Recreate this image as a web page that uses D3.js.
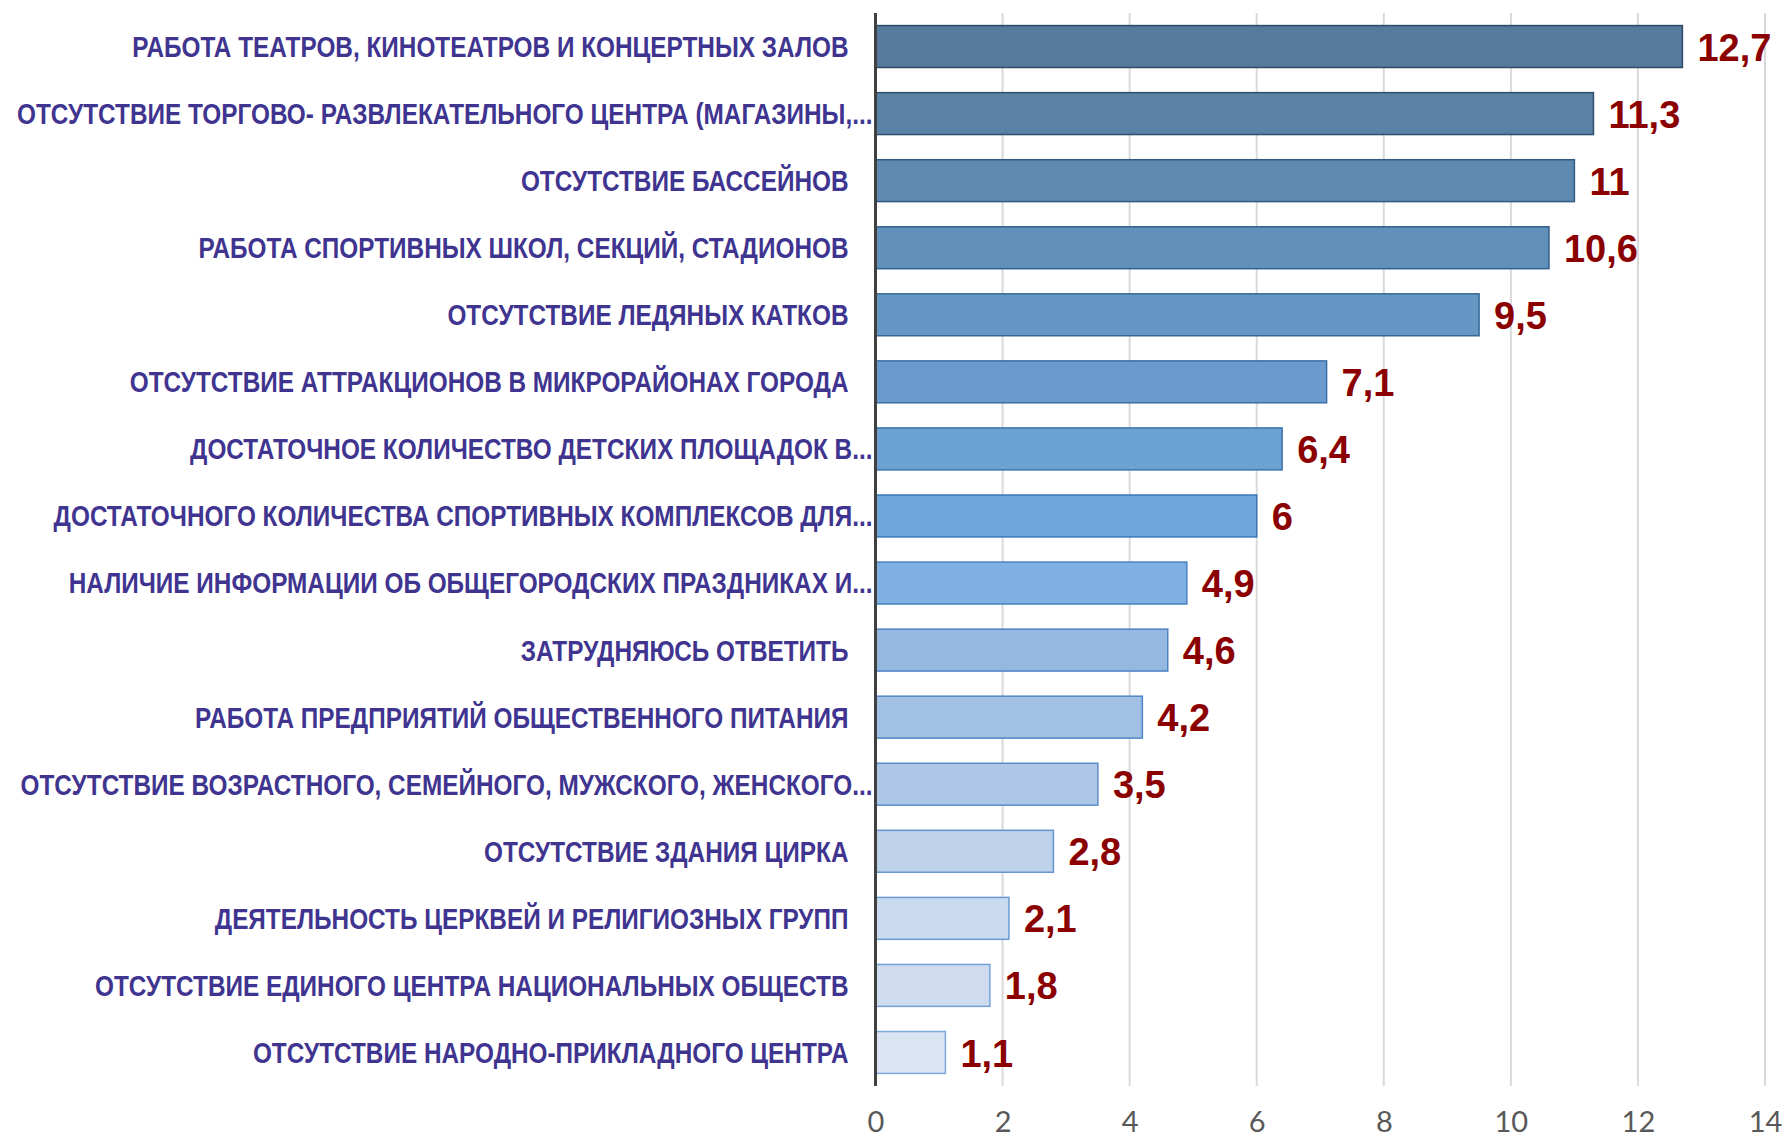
<!DOCTYPE html>
<html>
<head>
<meta charset="utf-8">
<script src="https://cdn.jsdelivr.net/npm/d3@7"></script>
<style>
  html, body { margin: 0; padding: 0; background: #ffffff; }
  svg { display: block; }
</style>
</head>
<body>
<svg id="chart" width="1785" height="1139"></svg>
<script>
const categories = [
  "РАБОТА ТЕАТРОВ, КИНОТЕАТРОВ И КОНЦЕРТНЫХ ЗАЛОВ",
  "ОТСУТСТВИЕ ТОРГОВО- РАЗВЛЕКАТЕЛЬНОГО ЦЕНТРА (МАГАЗИНЫ,...",
  "ОТСУТСТВИЕ БАССЕЙНОВ",
  "РАБОТА СПОРТИВНЫХ ШКОЛ, СЕКЦИЙ, СТАДИОНОВ",
  "ОТСУТСТВИЕ ЛЕДЯНЫХ КАТКОВ",
  "ОТСУТСТВИЕ АТТРАКЦИОНОВ В МИКРОРАЙОНАХ ГОРОДА",
  "ДОСТАТОЧНОЕ КОЛИЧЕСТВО ДЕТСКИХ ПЛОЩАДОК В...",
  "ДОСТАТОЧНОГО КОЛИЧЕСТВА СПОРТИВНЫХ КОМПЛЕКСОВ ДЛЯ...",
  "НАЛИЧИЕ ИНФОРМАЦИИ ОБ ОБЩЕГОРОДСКИХ ПРАЗДНИКАХ И...",
  "ЗАТРУДНЯЮСЬ ОТВЕТИТЬ",
  "РАБОТА ПРЕДПРИЯТИЙ ОБЩЕСТВЕННОГО ПИТАНИЯ",
  "ОТСУТСТВИЕ ВОЗРАСТНОГО, СЕМЕЙНОГО, МУЖСКОГО, ЖЕНСКОГО...",
  "ОТСУТСТВИЕ ЗДАНИЯ ЦИРКА",
  "ДЕЯТЕЛЬНОСТЬ ЦЕРКВЕЙ И РЕЛИГИОЗНЫХ ГРУПП",
  "ОТСУТСТВИЕ ЕДИНОГО ЦЕНТРА НАЦИОНАЛЬНЫХ ОБЩЕСТВ",
  "ОТСУТСТВИЕ НАРОДНО-ПРИКЛАДНОГО ЦЕНТРА"
];
const values = [12.7, 11.3, 11, 10.6, 9.5, 7.1, 6.4, 6, 4.9, 4.6, 4.2, 3.5, 2.8, 2.1, 1.8, 1.1];
const tickValues = [0, 2, 4, 6, 8, 10, 12, 14];
const barFills = ["#557a9b","#5a81a6","#5e89b1","#6190bb","#6497c4","#6a9bcd","#6ba2d2","#70a7da",
                  "#7eb1e1","#94b8e0","#a2c0e4","#afc7e7","#bed2ea","#c9d9ee","#cfdcef","#dae4f2"];
const barStrokes = ["#2f4a68","#30506f","#345a80","#36618c","#386898","#3a6ea6","#3b72ae","#3d78b8",
                    "#4a80c2","#4c82c4","#4f85c6","#5a8dcb","#6494d0","#6c9ad3","#73a0d6","#7ea7da"];
const truncated = categories.map(c => c.endsWith("..."));

const svg = d3.select("#chart");
const plotLeft = 875.5, plotRight = 1765, plotTop = 13, plotBottom = 1086;
const boldFont = "'Liberation Sans', Arial, 'DejaVu Sans Condensed', sans-serif";

const x = d3.scaleLinear().domain([0, 14]).range([plotLeft, plotRight]);
const y = d3.scaleBand().domain(categories).range([plotTop, plotBottom]).paddingInner(0.375).paddingOuter(0.1875);

// gridlines
svg.append("g").selectAll("line").data(tickValues.filter(d => d > 0)).join("line")
  .attr("x1", d => x(d)).attr("x2", d => x(d))
  .attr("y1", plotTop).attr("y2", plotBottom)
  .attr("stroke", "#d9d9d9").attr("stroke-width", 2);

// bars
svg.append("g").selectAll("rect").data(values).join("rect")
  .attr("x", x(0))
  .attr("y", (d, i) => y(categories[i]))
  .attr("width", d => x(d) - x(0))
  .attr("height", y.bandwidth())
  .attr("fill", (d, i) => barFills[i])
  .attr("stroke", (d, i) => barStrokes[i])
  .attr("stroke-width", 1.5);

// value labels
svg.append("g").selectAll("text").data(values).join("text")
  .attr("transform", (d, i) => `translate(${x(d) + 15},${y(categories[i]) + y.bandwidth() / 2})`)
  .attr("dy", "0.37em")
  .attr("font-family", boldFont)
  .attr("font-weight", "bold")
  .attr("font-size", 38)
  .attr("fill", "#8b0000")
  .text(d => String(d).replace(".", ","));

// category labels
svg.append("g").selectAll("text").data(categories).join("text")
  .attr("transform", (d, i) => `translate(${truncated[i] ? plotLeft - 3 : plotLeft - 27},${y(d) + y.bandwidth() / 2}) scale(0.84,1)`)
  .attr("dy", "0.36em")
  .attr("text-anchor", "end")
  .attr("font-family", boldFont)
  .attr("font-weight", "bold")
  .attr("font-size", 29)
  .attr("fill", "#3f3590")
  .text(d => d);

// x axis
const xAxis = d3.axisBottom(x).tickValues(tickValues).tickSize(0).tickPadding(25);
const gx = svg.append("g").attr("transform", `translate(0,${plotBottom})`).call(xAxis);
gx.select(".domain").remove();
gx.selectAll("text")
  .attr("font-family", "Lato, 'Open Sans', sans-serif")
  .attr("font-size", 29)
  .attr("fill", "#595959");

// y axis line
svg.append("line")
  .attr("x1", plotLeft).attr("x2", plotLeft)
  .attr("y1", plotTop).attr("y2", plotBottom)
  .attr("stroke", "#404040").attr("stroke-width", 3);
</script>
</body>
</html>
